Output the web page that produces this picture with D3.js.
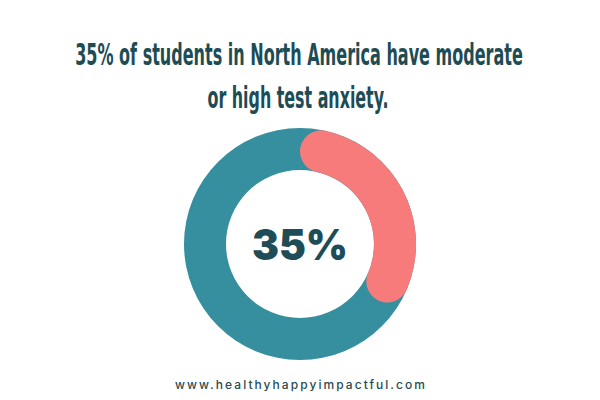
<!DOCTYPE html>
<html>
<head>
<meta charset="utf-8">
<script src="https://cdn.jsdelivr.net/npm/d3@7"></script>
<style>
html,body{margin:0;padding:0;background:#fff;}
svg{display:block;}
</style>
</head>
<body>
<script>
const categories = ["Moderate or high test anxiety", "Other"];
const values = [35, 65];
const titleLines = ["35% of students in North America have moderate", "or high test anxiety."];
const centerLabel = "35%";
const footer = "www.healthyhappyimpactful.com";

const W = 600, H = 400;
const svg = d3.select("body").append("svg").attr("width", W).attr("height", H);
svg.append("rect").attr("width", W).attr("height", H).attr("fill", "#ffffff");

const titleColor = "#1e4c55";
const titleFont = "'DejaVu Sans Condensed','Liberation Sans Narrow',sans-serif";

function fitText(parent, str, x, y, width, size, family, weight, color) {
  const grp = parent.append("g");
  const t = grp.append("text")
    .attr("x", 0).attr("y", 0).attr("text-anchor", "middle")
    .style("font-family", family).style("font-stretch", "condensed")
    .style("font-weight", weight).style("font-size", size + "px").attr("fill", color)
    .text(str);
  const natural = t.node().getComputedTextLength() || width;
  grp.attr("transform", `translate(${x},${y}) scale(${width / natural},1)`);
  return t;
}

fitText(svg, titleLines[0], 299, 65, 448, 31, titleFont, "bold", titleColor);
fitText(svg, titleLines[1], 298, 108, 181, 31, titleFont, "bold", titleColor);

const cx = 300, cy = 244, outerR = 116, innerR = 74;
const colors = d3.scaleOrdinal().domain(categories).range(["#f77b7b", "#368f9e"]);
const pie = d3.pie().sort(null).value(d => d)(values);
const g = svg.append("g").attr("transform", `translate(${cx},${cy})`);

// background ring (other share)
g.append("path")
  .attr("d", d3.arc().innerRadius(innerR).outerRadius(outerR)({startAngle: 0, endAngle: 2 * Math.PI}))
  .attr("fill", colors(categories[1]));

// highlighted share with rounded ends
const hiArc = d3.arc().innerRadius(innerR).outerRadius(outerR).cornerRadius((outerR - innerR) / 2);
g.append("path")
  .attr("d", hiArc(pie[0]))
  .attr("fill", colors(categories[0]));

g.append("text")
  .attr("x", 0).attr("y", 16).attr("text-anchor", "middle")
  .attr("textLength", 96).attr("lengthAdjust", "spacingAndGlyphs")
  .style("font-family", "Inter, 'Noto Sans', sans-serif")
  .style("font-weight", "900").style("font-size", "42px").attr("fill", "#1f4d57")
  .text(centerLabel);

svg.append("text")
  .attr("x", 300).attr("y", 389).attr("text-anchor", "middle")
  .attr("textLength", 250).attr("lengthAdjust", "spacing")
  .style("font-family", "Inter, 'Noto Sans', sans-serif")
  .style("font-weight", "500").style("font-size", "12px").attr("fill", "#2b4a51")
  .text(footer);
</script>
</body>
</html>
